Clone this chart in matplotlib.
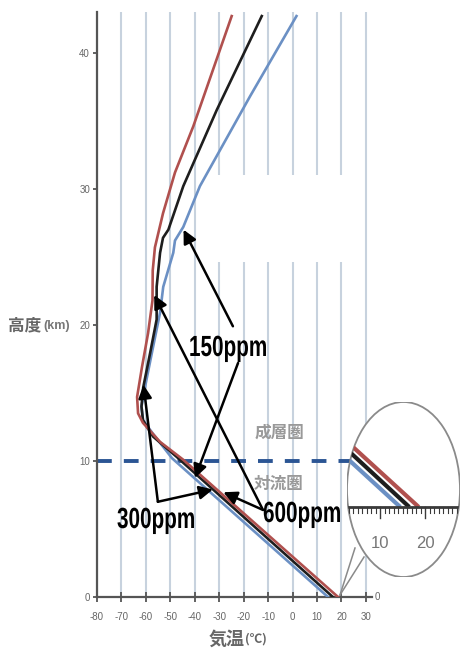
import matplotlib
matplotlib.use("Agg")
import matplotlib.pyplot as plt
import matplotlib.font_manager as fm
from matplotlib.patches import Ellipse, Rectangle
from matplotlib.lines import Line2D
from matplotlib.patheffects import AbstractPathEffect
from matplotlib.transforms import Affine2D

# ---------------- data ----------------
alt_600 = [0, 10.1, 11.4, 12.8, 13.5, 14.7, 16.9, 19.4, 21.8, 24.0, 25.7, 28.2, 31.2, 34.6, 42.7]
temp_600 = [18.6, -44.8, -54.2, -61.2, -63.2, -63.6, -61.6, -59.1, -57.3, -57.2, -56.3, -53.0, -48.1, -40.6, -24.9]

alt_300 = [0, 10.3, 11.8, 13.0, 14.0, 15.4, 17.9, 20.4, 22.8, 25.3, 26.4, 27.0, 30.2, 35.8, 42.7]
temp_300 = [16.5, -47.4, -57.1, -61.2, -61.8, -61.1, -58.3, -55.6, -55.6, -54.2, -53.0, -50.8, -44.7, -31.0, -12.6]

alt_150 = [0, 10.2, 12.0, 13.0, 14.0, 15.4, 17.9, 20.9, 22.8, 25.3, 26.2, 27.2, 30.2, 36.8, 42.7]
temp_150 = [14.5, -49.3, -57.1, -61.2, -61.8, -60.4, -57.6, -54.2, -52.9, -48.8, -48.1, -44.7, -37.9, -17.4, 1.6]

x_ticks = [-80, -70, -60, -50, -40, -30, -20, -10, 0, 10, 20, 30]
y_ticks = [0, 10, 20, 30, 40]
tropopause_km = 10
zoom_ticks = [10, 20]

c_red = "#b0504e"
c_black = "#1e1e1e"
c_blue = "#6b90c4"

names = {f.name for f in fm.fontManager.ttflist}
narrow = "Liberation Sans Narrow" if "Liberation Sans Narrow" in names else "Liberation Sans"
jp = "Noto Sans CJK JP"
plt.rcParams["axes.unicode_minus"] = False


class HScale(AbstractPathEffect):
    """Draw text compressed horizontally about its left start."""
    def __init__(self, sx):
        super().__init__()
        self.sx = sx

    def draw_path(self, renderer, gc, tpath, affine, rgbFace=None):
        renderer.draw_path(gc, tpath, Affine2D().scale(self.sx, 1) + affine, rgbFace)


W, H = 463, 653
fig = plt.figure(figsize=(W / 100, H / 100), dpi=100)

def fx(x):
    return x / W

def fy(y):
    return 1 - y / H

# main axes: -80 at px 97, 32.5 at px 372 ; 0 km at px 597, 43 km at px 12
ax = fig.add_axes([fx(97), fy(597), (372 - 97) / W, (597 - 12) / H])
ax.set_xlim(-80, 32.5)
ax.set_ylim(0, 43)
ax.set_axisbelow(True)
ax.set_xticks(x_ticks)
ax.set_yticks(y_ticks)
ax.grid(axis="x", color="#c7d2de", lw=1.5)
for s in ["top", "right"]:
    ax.spines[s].set_visible(False)
for s in ["left", "bottom"]:
    ax.spines[s].set_color("#555555")
    ax.spines[s].set_linewidth(1.6)
ax.tick_params(axis="x", direction="inout", length=7, width=1.3, color="#555555",
               labelsize=7, labelcolor="#666666", pad=7)
ax.tick_params(axis="y", direction="out", length=3, width=1.3, color="#555555",
               labelsize=7, labelcolor="#666666", pad=2)
for lab in ax.get_xticklabels() + ax.get_yticklabels():
    lab.set_family(narrow)
ax.text(33.6, 0, "0", va="center", ha="left", fontsize=7, color="#666666", family=narrow,
        clip_on=False)

# erased box (white)
ax.add_patch(Rectangle((-30.9, 24.6), 53.6, 6.4, facecolor="white", edgecolor="none", zorder=1))

# curves
ax.plot(temp_150, alt_150, color=c_blue, lw=1.9, zorder=3, solid_joinstyle="round")
ax.plot(temp_300, alt_300, color=c_black, lw=1.9, zorder=3, solid_joinstyle="round")
ax.plot(temp_600, alt_600, color=c_red, lw=1.9, zorder=3, solid_joinstyle="round")

# tropopause dashed line
ax.plot([-80, 24], [tropopause_km, tropopause_km], color="#2b5594", lw=2.8,
        dashes=(3.8, 3.1), zorder=2, solid_capstyle="butt")

ax.text(-5.5, 12.1, "成層圏", ha="center", va="center", fontsize=12, color="#999999",
        family=jp, weight="bold", zorder=4)
ax.text(-5.5, 8.3, "対流圏", ha="center", va="center", fontsize=12, color="#999999",
        family=jp, weight="bold", zorder=4)

# annotations
ap = dict(arrowstyle="-|>", lw=1.8, color="black", mutation_scale=20, shrinkA=0, shrinkB=0)
ann = [
    ((-24.4, 19.9), (-44.6, 27.0)),
    ((-22.3, 17.2), (-39.9, 8.75)),
    ((-55.1, 7.0), (-61.0, 15.6)),
    ((-55.1, 7.0), (-32.6, 7.9)),
    ((-12.1, 6.4), (-56.6, 22.2)),
    ((-12.1, 6.4), (-28.3, 7.7)),
]
for tail, tip in ann:
    ax.annotate("", xy=tip, xytext=tail, arrowprops=ap, zorder=6)

squeeze = [HScale(0.71)]
tkw = dict(fontsize=21, weight="bold", family="Liberation Sans", color="black", ha="left",
           va="baseline", zorder=7, path_effects=squeeze)
fig.text(fx(189), fy(356), "150ppm", **tkw)
fig.text(fx(117), fy(528), "300ppm", **tkw)
fig.text(fx(263), fy(522), "600ppm", **tkw)

# axis labels
fig.text(fx(8), fy(325), "高度", ha="left", va="center", fontsize=12, weight="bold",
         color="#666666", family=jp)
fig.text(fx(43), fy(326), "(km)", ha="left", va="center", fontsize=9, weight="bold",
         color="#777777", family="Liberation Sans")
fig.text(fx(227), fy(639), "気温", ha="center", va="center", fontsize=13, weight="bold",
         color="#666666", family=jp)
fig.text(fx(256), fy(639), "(℃)", ha="center", va="center", fontsize=9, weight="bold",
         color="#666666", family=jp)

# callout tail
for ex, ey in [(355, 548), (364, 557)]:
    fig.add_artist(Line2D([fx(340), fx(ex)], [fy(595), fy(ey)], color="#8a8a8a", lw=1.1))

# magnifier inset: 10 at px 380, 20 at px 425; axis line at px 507
L, R, T_, B = 347, 460, 402, 577
axz = fig.add_axes([fx(L), fy(B), (R - L) / W, (B - T_) / H])
pxdeg = 4.5
pxkm = 25.8
axz.set_xlim(10 - (380 - L) / pxdeg, 10 + (R - 380) / pxdeg)
axz.set_ylim(-(B - 507) / pxkm, (507 - T_) / pxkm)
axz.axis("off")
ell = Ellipse((0.5, 0.5), 1, 1, transform=axz.transAxes, facecolor="white",
              edgecolor="#8a8a8a", lw=1.3, zorder=0)
axz.add_patch(ell)
clip = Ellipse((0.5, 0.5), 1, 1, transform=axz.transAxes, facecolor="none", edgecolor="none")
axz.add_patch(clip)
for t, a, c in [(temp_150, alt_150, c_blue), (temp_300, alt_300, c_black), (temp_600, alt_600, c_red)]:
    ln, = axz.plot(t, a, color=c, lw=3.0, zorder=2, solid_capstyle="butt")
    ln.set_clip_path(clip)
x0, x1 = axz.get_xlim()
hl, = axz.plot([x0, x1], [0, 0], color="#3a3a3a", lw=2.0, zorder=3)
hl.set_clip_path(clip)
for t in range(3, 28):
    major = t in zoom_ticks
    vl, = axz.plot([t, t], [0, -0.42 if major else -0.22], color="#3a3a3a",
                   lw=1.0 if major else 0.8, zorder=3)
    vl.set_clip_path(clip)
for t in zoom_ticks:
    axz.text(t, -1.4, str(t), ha="center", va="center", fontsize=12, color="#777777",
             family=narrow, zorder=4)

fig.savefig("out.png", dpi=100, facecolor="white")
